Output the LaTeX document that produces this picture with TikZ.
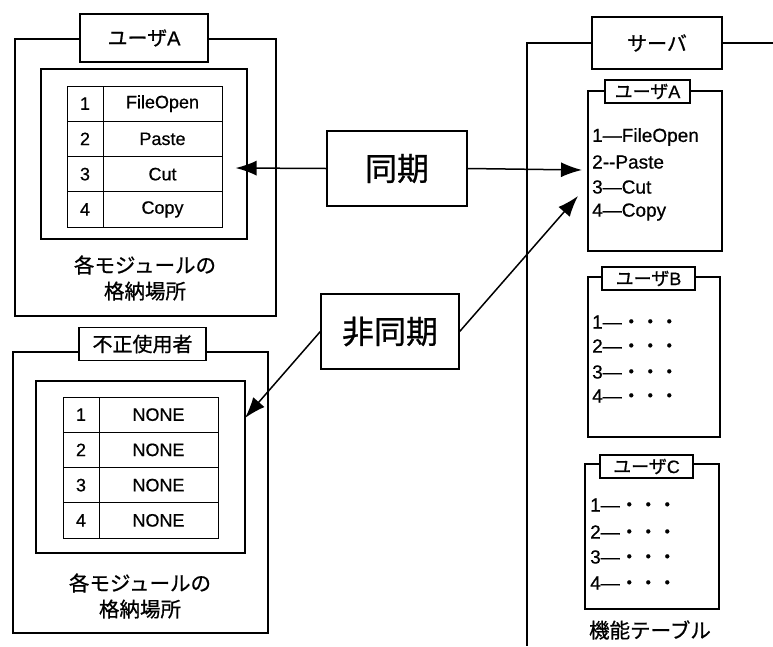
\documentclass[tikz,border=0pt]{standalone}
\usepackage{fontspec}
\setmainfont{Liberation Sans}[FakeBold=0.6]
\newfontfamily\jp{Noto Sans CJK JP}[FakeBold=0.8]
\usetikzlibrary{arrows.meta,calc}
\begin{document}
\begin{tikzpicture}[x=1pt,y=-1pt,
  bx/.style 2 args={draw,line width=1.1pt,minimum width=#1pt,minimum height=#2pt,inner sep=0pt},
  ttl/.style 2 args={bx={#1}{#2},fill=white,font=\jp\fontsize{20}{22}\selectfont},
  stl/.style 2 args={bx={#1}{#2},fill=white,font=\fontsize{18}{20}\selectfont},
  cell/.style 2 args={draw,line width=0.8pt,minimum width=#1pt,minimum height=#2pt,inner sep=0pt,font=\fontsize{18}{20}\selectfont},
  big/.style 2 args={bx={#1}{#2},line width=1.3pt,font=\jp\fontsize{32}{34}\selectfont},
  lbl/.style={align=center,inner sep=0pt,font=\jp\fontsize{20.5}{26}\selectfont},
  itm/.style={anchor=west,inner sep=0pt,font=\fontsize{19}{21}\selectfont},
  ln/.style={line width=1.1pt},
  arr/.style={line width=1.5pt,-{Latex[length=21pt,width=15pt]}}]
\useasboundingbox (0,0) rectangle (773,646);

% ---------- user A (top left) ----------
\node[bx={261}{277}] (uaOuter) at (145.5,177.5) {};
\node[ttl={128}{48}] (uaTitle) at (144,38) {ユーザ\rmfamily A};
\node[bx={206}{170}] (uaInner) at (144,154) {};
\foreach \i/\t in {1/FileOpen,2/Paste,3/Cut,4/Copy}{
  \node[cell={36}{35.25}] (ua-n\i) at (85,{86+35.25*(\i-0.5)}) {\i};
  \node[cell={119}{35.25}] (ua-t\i) at (162.5,{86+35.25*(\i-0.5)}) {\t};
}
\node[lbl] (uaLabel) at (145,278) {各モジュールの\\格納場所};

% ---------- illegal user (bottom left) ----------
\node[bx={255}{281}] (ilOuter) at (140.5,492.5) {};
\node[ttl={127}{33}] (ilTitle) at (142.5,344) {不正使用者};
\node[bx={209}{172}] (ilInner) at (140.5,467) {};
\foreach \i in {1,2,3,4}{
  \node[cell={36}{35.25}] (il-n\i) at (81,{397+35.25*(\i-0.5)}) {\i};
  \node[cell={119}{35.25}] (il-t\i) at (158.5,{397+35.25*(\i-0.5)}) {NONE};
}
\node[lbl] (ilLabel) at (140,596) {各モジュールの\\格納場所};

% ---------- sync boxes ----------
\node[big={140}{75}] (dou) at (397,168.5) {同期};
\node[big={138}{75}] (hido) at (390,331.5) {非同期};

% ---------- server ----------
\node[ttl={130}{52}] (srv) at (657,43) {サーバ};
\draw[ln] (srv.west) -| (527,646);
\draw[ln] (srv.east) -- (773,43);

\node[bx={134}{160}] (sA) at (655,171) {};
\node[stl={85}{23}] (sAt) at (647.5,91.5) {{\jp ユーザ}A};
\node[itm] (sA1) at (592,137) {1—FileOpen};
\node[itm] (sA2) at (592,162) {2-{}-Paste};
\node[itm] (sA3) at (592,187) {3—Cut};
\node[itm] (sA4) at (592,212) {4—Copy};

\node[bx={132}{160}] (sB) at (654,357) {};
\node[stl={93}{23}] (sBt) at (648.5,278.5) {{\jp ユーザ}B};
\foreach \i/\y in {1/322,2/346,3/372,4/396}{
  \node[itm] (sB\i) at (592,\y) {\i—{\jp ・・・}};
}

\node[bx={134}{145}] (sC) at (652,536.5) {};
\node[stl={93}{23}] (sCt) at (646.5,466.5) {{\jp ユーザ}C};
\foreach \i/\y in {1/505,2/532,3/557,4/583}{
  \node[itm] (sC\i) at (590,\y) {\i—{\jp ・・・}};
}
\node[lbl] (ftbl) at (650,630) {機能テーブル};

% ---------- arrows ----------
\coordinate (t1) at ($(uaInner.east)+(-12,14)$);
\coordinate (t2) at (582,170);
\coordinate (t3) at (578,196);
\coordinate (t4) at (245,418);
\draw[arr] (dou.west) -- (t1);
\draw[arr] (dou.east) -- (t2);
\draw[arr] (hido.east) -- (t3);
\draw[arr] (hido.west) -- (t4);
\end{tikzpicture}
\end{document}
